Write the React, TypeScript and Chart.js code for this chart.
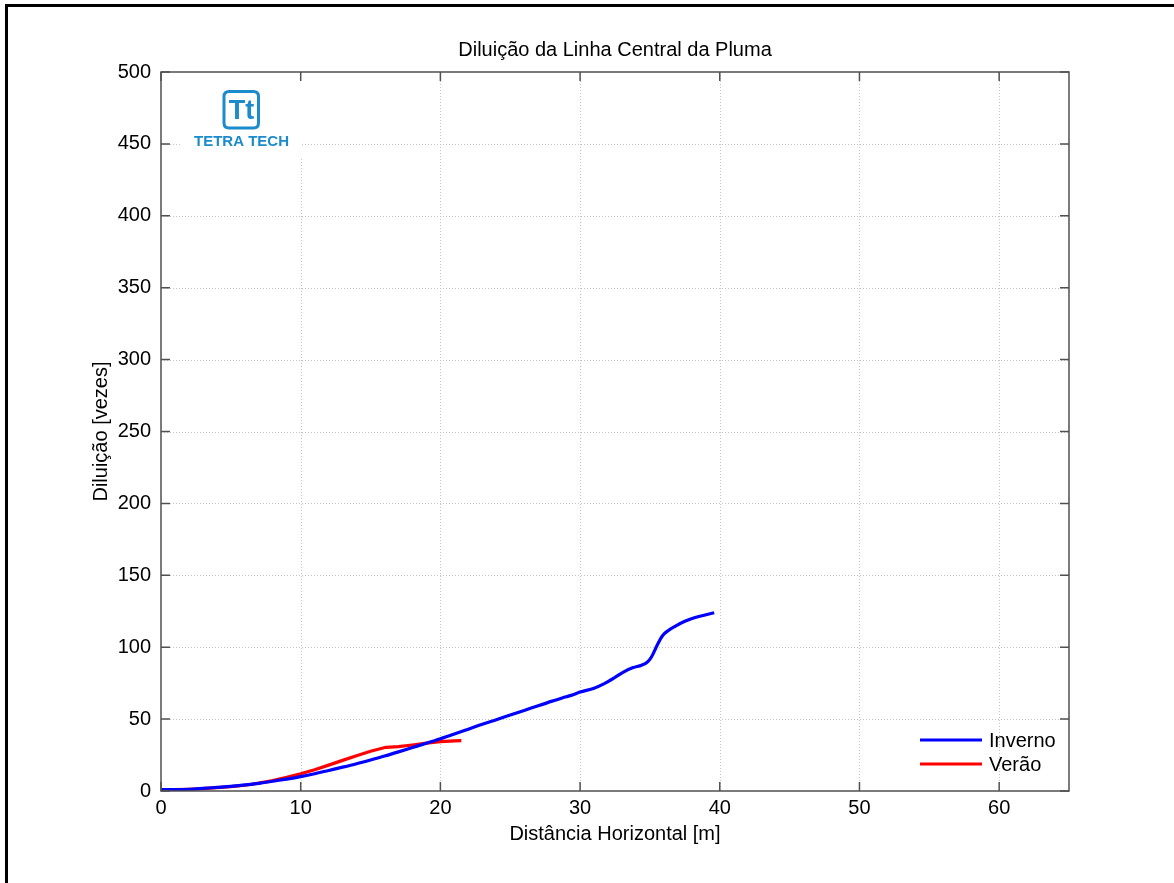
import React, { useEffect, useRef } from "react";
import { Chart, registerables } from "chart.js";

Chart.register(...registerables);

// Centre-line dilution of the plume vs horizontal distance
const invernoX = [0, 1, 2, 3, 4, 5, 6, 7, 8, 9, 10, 11, 12, 13, 14, 15, 16, 17, 18, 19, 20, 21, 22, 23, 24, 25, 26, 27, 28, 29, 29.5, 30, 31, 31.7, 32.5, 33.1, 33.8, 34.4, 34.8, 35.1, 35.5, 35.9, 36.3, 36.8, 37.5, 38.5, 39.6];
const invernoY = [1, 1, 1.2, 1.8, 2.5, 3.2, 4.2, 5.3, 6.8, 8.3, 10, 12, 14.3, 16.6, 19, 21.6, 24.3, 27.2, 30.2, 33.2, 36.3, 39.6, 43, 46.4, 49.6, 52.8, 56, 59.3, 62.5, 65.5, 67, 68.8, 71.5, 74.5, 79, 82.7, 85.8, 87.5, 89.5, 93, 101, 108, 111.5, 114.5, 118, 121.3, 124];

const veraoX = [0, 1, 2, 3, 4, 5, 6, 7, 8, 9, 10, 11, 12, 13, 14, 15, 16.1, 17, 18, 19, 20, 21, 21.5];
const veraoY = [1, 1, 1.2, 1.6, 2.3, 3, 4, 5.5, 7.3, 9.5, 12, 14.8, 18, 21.3, 24.5, 27.7, 30.4, 30.8, 32, 33.3, 34.3, 34.9, 35];

const xTicks = [0, 10, 20, 30, 40, 50, 60];
const yTicks = [0, 50, 100, 150, 200, 250, 300, 350, 400, 450, 500];

const seriesNames = ["Inverno", "Verão"];
const seriesColors = ["#0000ff", "#ff0000"];

const chartTitle = "Diluição da Linha Central da Pluma";
const xTitle = "Distância Horizontal [m]";
const yTitle = "Diluição [vezes]";

const FONT = "'Liberation Sans', Arial, sans-serif";
const AXIS_COLOR = "#505050";
const LOGO_BLUE = "#1b8bcb";

const toPoints = (xs: number[], ys: number[]) => xs.map((x, i) => ({ x, y: ys[i] }));

const decorPlugin = {
  id: "decor",
  beforeDatasetsDraw(chart: any) {
    const { ctx, chartArea, scales } = chart;
    const { left, right, top, bottom } = chartArea;
    ctx.save();
    // dotted grid
    ctx.strokeStyle = "#c4c4c4";
    ctx.lineWidth = 1;
    ctx.setLineDash([1, 2]);
    xTicks.forEach((v) => {
      if (v === 0) return;
      const px = Math.round(scales.x.getPixelForValue(v)) + 0.5;
      ctx.beginPath();
      ctx.moveTo(px, top);
      ctx.lineTo(px, bottom);
      ctx.stroke();
    });
    yTicks.forEach((v) => {
      if (v === 0 || v === 500) return;
      const py = Math.round(scales.y.getPixelForValue(v)) + 0.5;
      ctx.beginPath();
      ctx.moveTo(left, py);
      ctx.lineTo(right, py);
      ctx.stroke();
    });
    ctx.setLineDash([]);

    // logo panel
    ctx.fillStyle = "#ffffff";
    ctx.fillRect(181, top + 1, 121, 85);
    ctx.strokeStyle = LOGO_BLUE;
    ctx.lineWidth = 3;
    const bx = 224, by = 91.5, bw = 34.5, bh = 36.5, r = 5;
    ctx.beginPath();
    ctx.moveTo(bx + r, by);
    ctx.lineTo(bx + bw - r, by);
    ctx.quadraticCurveTo(bx + bw, by, bx + bw, by + r);
    ctx.lineTo(bx + bw, by + bh - r);
    ctx.quadraticCurveTo(bx + bw, by + bh, bx + bw - r, by + bh);
    ctx.lineTo(bx + r, by + bh);
    ctx.quadraticCurveTo(bx, by + bh, bx, by + bh - r);
    ctx.lineTo(bx, by + r);
    ctx.quadraticCurveTo(bx, by, bx + r, by);
    ctx.stroke();
    ctx.fillStyle = LOGO_BLUE;
    ctx.textAlign = "center";
    ctx.textBaseline = "alphabetic";
    ctx.font = `bold 27px ${FONT}`;
    ctx.fillText("Tt", 241.5, 119);
    ctx.font = `bold 15px ${FONT}`;
    ctx.fillText("TETRA TECH", 241.5, 146);
    ctx.restore();
  },
  afterDraw(chart: any) {
    const { ctx, chartArea, scales } = chart;
    const { left, right, top, bottom } = chartArea;
    ctx.save();
    // axes box with inward ticks
    ctx.strokeStyle = AXIS_COLOR;
    ctx.lineWidth = 1.5;
    ctx.strokeRect(left, top, right - left, bottom - top);
    const tl = 9;
    ctx.beginPath();
    xTicks.forEach((v) => {
      const px = scales.x.getPixelForValue(v);
      ctx.moveTo(px, bottom);
      ctx.lineTo(px, bottom - tl);
      ctx.moveTo(px, top);
      ctx.lineTo(px, top + tl);
    });
    yTicks.forEach((v) => {
      const py = scales.y.getPixelForValue(v);
      ctx.moveTo(left, py);
      ctx.lineTo(left + tl, py);
      ctx.moveTo(right, py);
      ctx.lineTo(right - tl, py);
    });
    ctx.stroke();

    // titles
    ctx.fillStyle = "#000000";
    ctx.font = `20px ${FONT}`;
    ctx.textAlign = "center";
    ctx.textBaseline = "alphabetic";
    ctx.fillText(chartTitle, (left + right) / 2, 56);
    ctx.textBaseline = "middle";
    ctx.fillText(xTitle, (left + right) / 2, 834);
    ctx.save();
    ctx.translate(101, (top + bottom) / 2);
    ctx.rotate(-Math.PI / 2);
    ctx.fillText(yTitle, 0, 0);
    ctx.restore();

    // legend
    const ly = [740, 764];
    seriesNames.forEach((name, i) => {
      ctx.strokeStyle = seriesColors[i];
      ctx.lineWidth = 3;
      ctx.beginPath();
      ctx.moveTo(920, ly[i]);
      ctx.lineTo(982, ly[i]);
      ctx.stroke();
      ctx.fillStyle = "#000000";
      ctx.textAlign = "left";
      ctx.textBaseline = "middle";
      ctx.fillText(name, 989, ly[i] + 1);
    });

    // figure frame (left and top edges)
    ctx.fillStyle = "#000000";
    ctx.fillRect(5, 4, 1169, 3);
    ctx.fillRect(5, 4, 3, 879);
    ctx.restore();
  },
};

export default function App() {
  const canvasRef = useRef<HTMLCanvasElement | null>(null);

  useEffect(() => {
    document.body.style.margin = "0";
    const canvas = canvasRef.current;
    if (!canvas) return;
    const chart = new Chart(canvas, {
      type: "scatter",
      data: {
        datasets: [
          {
            label: seriesNames[0],
            data: toPoints(invernoX, invernoY),
            showLine: true,
            borderColor: seriesColors[0],
            backgroundColor: seriesColors[0],
            borderWidth: 3.2,
            pointRadius: 0,
            cubicInterpolationMode: "monotone",
          },
          {
            label: seriesNames[1],
            data: toPoints(veraoX, veraoY),
            showLine: true,
            borderColor: seriesColors[1],
            backgroundColor: seriesColors[1],
            borderWidth: 3.2,
            pointRadius: 0,
            tension: 0,
          },
        ],
      },
      options: {
        responsive: false,
        animation: false,
        devicePixelRatio: 1,
        layout: { padding: { left: 0, top: 72, right: 105, bottom: 0 } },
        plugins: {
          legend: { display: false },
          title: { display: false },
          tooltip: { enabled: false },
        },
        scales: {
          x: {
            type: "linear",
            min: 0,
            max: 65,
            grid: { display: false, drawTicks: false },
            border: { display: false },
            afterFit: (scale: any) => {
              scale.height = 92;
            },
            afterBuildTicks: (scale: any) => {
              scale.ticks = xTicks.map((v) => ({ value: v }));
            },
            ticks: {
              color: "#000000",
              font: { family: FONT, size: 20 },
              padding: 5,
              maxRotation: 0,
            },
          },
          y: {
            type: "linear",
            min: 0,
            max: 500,
            grid: { display: false, drawTicks: false },
            border: { display: false },
            afterFit: (scale: any) => {
              scale.width = 161;
            },
            afterBuildTicks: (scale: any) => {
              scale.ticks = yTicks.map((v) => ({ value: v }));
            },
            ticks: {
              color: "#000000",
              font: { family: FONT, size: 20 },
              padding: 10,
            },
          },
        },
      },
      plugins: [decorPlugin],
    } as any);
    return () => chart.destroy();
  }, []);

  return (
    <div style={{ position: "absolute", left: 0, top: 0, width: 1174, height: 883, background: "#ffffff" }}>
      <canvas ref={canvasRef} width={1174} height={883} style={{ display: "block" }} />
    </div>
  );
}
